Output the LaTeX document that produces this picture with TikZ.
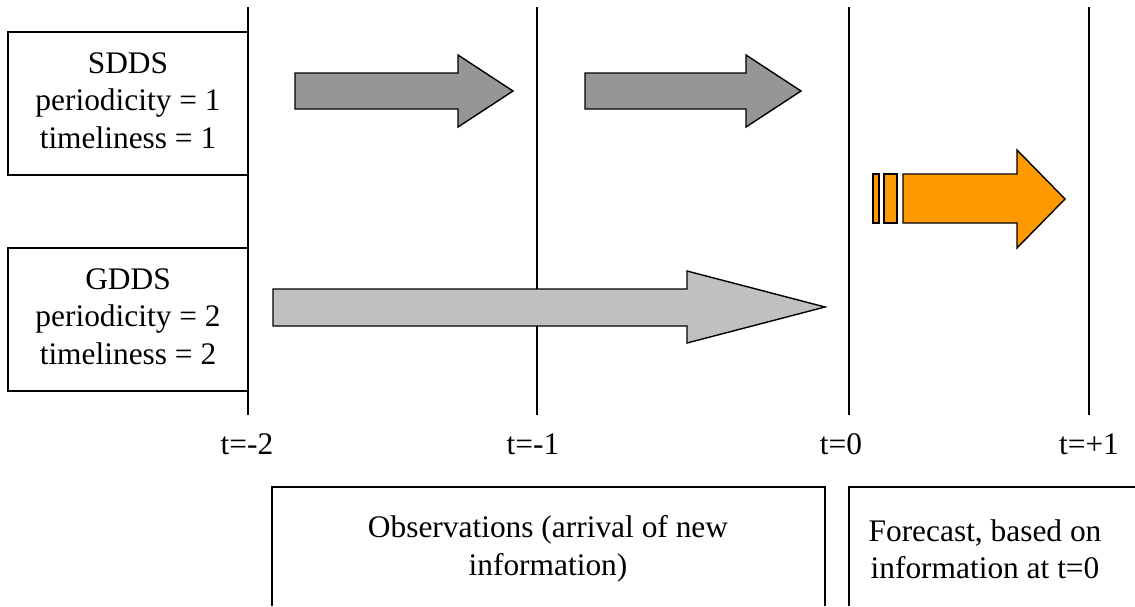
\documentclass[tikz,border=0pt]{standalone}
\usepackage{fontspec}
\setmainfont{Liberation Serif}
\definecolor{arrowdark}{RGB}{150,150,150}
\definecolor{arrowlight}{RGB}{192,192,192}
\definecolor{arroworange}{RGB}{255,153,0}
\begin{document}
\begin{tikzpicture}[x=0.5pt, y=-0.5pt, font=\fontsize{15.7}{18.75}\selectfont,
		box/.style={draw, line width=0.8pt, inner sep=0pt, minimum width=120pt, minimum height=71.5pt, text depth=3pt, align=center},
		tline/.style={line width=1pt},
		lbl/.style={anchor=base, inner sep=0pt},
		fat/.style={draw, line width=0.7pt, line join=miter}]
			\useasboundingbox (0,0) rectangle (1135,606);

			\node[box] (sdds) at (128,103.5) {SDDS\\periodicity = 1\\timeliness = 1};
			\node[box] (gdds) at (128,319.5) {GDDS\\periodicity = 2\\timeliness = 2};

			\draw[tline] (248,7) -- (248,415);
			\draw[tline] (537,7) -- (537,415);
			\draw[tline] (849,7) -- (849,415);
			\draw[tline] (1089,7) -- (1089,415);

			\node[lbl] (tm2) at (247,454) {t=-2};
			\node[lbl] (tm1) at (533,454) {t=-1};
			\node[lbl] (t0) at (841,454) {t=0};
			\node[lbl] (tp1) at (1089,454) {t=+1};

			% arrows
			\draw[fat, fill=arrowdark] (295,73) -- (458,73) -- (458,55) -- (513,91) -- (458,127) -- (458,109) -- (295,109) -- cycle;
			\draw[fat, fill=arrowdark] (585,73) -- (746,73) -- (746,55) -- (801,91) -- (746,127) -- (746,109) -- (585,109) -- cycle;
			\draw[fat, fill=arrowlight] (273,289) -- (687,289) -- (687,271) -- (825,307) -- (687,343) -- (687,326) -- (273,326) -- cycle;
			\draw[fat, fill=arroworange] (873,174) rectangle (879,223);
			\draw[fat, fill=arroworange] (884,174) rectangle (897,223);
			\draw[fat, fill=arroworange] (903,174) -- (1017,174) -- (1017,150) -- (1065,199) -- (1017,248) -- (1017,223) -- (903,223) -- cycle;

			\draw[line width=0.8pt] (272,606) -- (272,487) -- (825,487) -- (825,606);
			\draw[line width=0.8pt] (849,606) -- (849,487) -- (1135,487);
			\node[align=center] (obs) at (548,549) {Observations (arrival of new\\information)};
			\node[align=center] (fc) at (985,549) {Forecast, based on\\information at t=0};
		\end{tikzpicture}
\end{document}
